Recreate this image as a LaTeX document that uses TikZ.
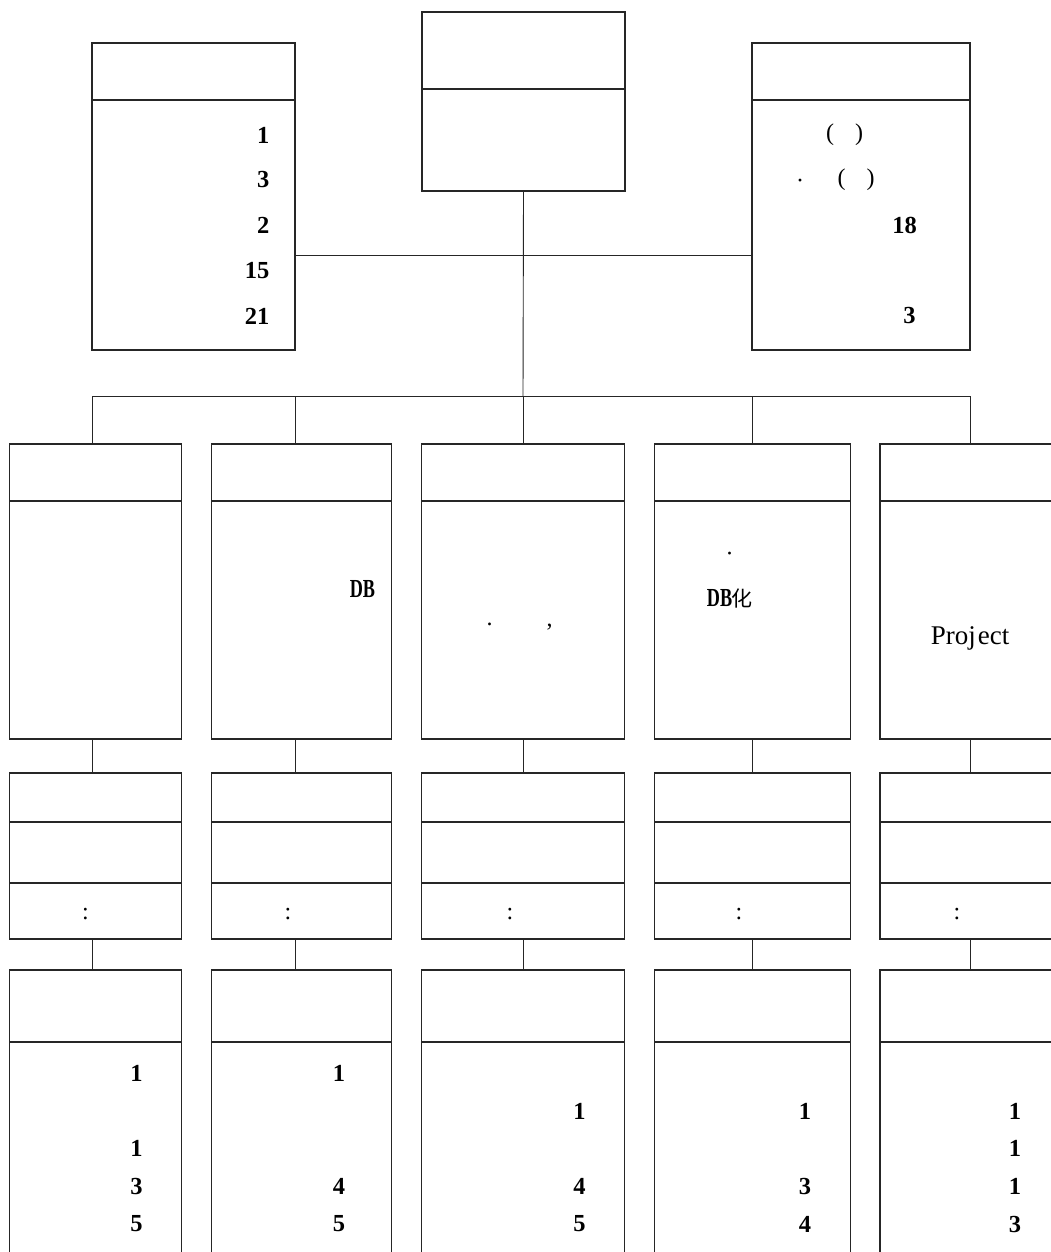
\documentclass[tikz,border=0pt]{standalone}
\usepackage{fontspec}
\setmainfont{Liberation Serif}
\newfontfamily\cjkfont{Noto Sans CJK SC}
\tikzset{
  box/.style={draw=black!85, line width=1.3pt, rectangle, inner sep=0pt, outer sep=0pt, anchor=north west},
  link/.style={draw=black!85, line width=0.9pt},
  num/.style={font=\fontsize{24.5}{28}\selectfont\bfseries, inner sep=0pt},
  txt/.style={font=\fontsize{24}{28}\selectfont, inner sep=0pt},
  dbtxt/.style={font=\fontsize{26}{30}\selectfont\bfseries, inner sep=0pt},
}
\newcommand\mybox[5]{%
  \node[box, minimum width={(#4)-(#2)}, minimum height={(#5)-(#3)}] (#1) at (#2,#3) {};}
\begin{document}
\begin{tikzpicture}[x=1pt,y=-1pt]
\useasboundingbox (0,0) rectangle (1051,1252);
\clip (0,0) rectangle (1051,1252);
% top boxes
\mybox{Lh}{92}{43}{295}{100}
\mybox{Lb}{92}{100}{295}{350}
\mybox{Ch}{422}{12}{625}{89}
\mybox{Cb}{422}{89}{625}{191}
\mybox{Rh}{752}{43}{970}{100}
\mybox{Rb}{752}{100}{970}{350}
% connectors at top
\coordinate (bus) at (523,396);
\coordinate (j) at (523,255);
\draw[link] (Cb.south) -- (bus);
\draw[link] (Lb.east |- j) -- (Rb.west |- j);
% columns
\foreach \i/\a/\b/\c in {1/9.5/181.5/92, 2/211.5/391.5/295, 3/421.5/624.5/523, 4/654.5/850.5/752, 5/880/1060/970}{
  \mybox{A\i-h}{\a}{444}{\b}{501}
  \mybox{A\i-b}{\a}{501}{\b}{739}
  \mybox{B\i-1}{\a}{773}{\b}{822}
  \mybox{B\i-2}{\a}{822}{\b}{883}
  \mybox{B\i-3}{\a}{883}{\b}{939}
  \mybox{C\i-h}{\a}{970}{\b}{1042}
  \mybox{C\i-b}{\a}{1042}{\b}{1275}
  \coordinate (d\i) at (\c,396);
  \draw[link] (d\i) -- (d\i |- A\i-h.north);
  \draw[link] (d\i |- A\i-b.south) -- (d\i |- B\i-1.north);
  \draw[link] (d\i |- B\i-3.south) -- (d\i |- C\i-h.north);
}
\draw[link] (d1) -- (d5);
% top-left texts
\node[num, anchor=east] (l1) at (269.5,135) {1};
\node[num, anchor=east] (l2) at (269.5,180) {3};
\node[num, anchor=east] (l3) at (269.5,225) {2};
\node[num, anchor=east] (l4) at (269.5,271) {15};
\node[num, anchor=east] (l5) at (269.5,316) {21};
% top-right texts
\node[txt] (r1) at (844.5,135) {(\hspace{21pt})};
\node[txt] (r2a) at (800,184) {·};
\node[txt] (r2b) at (856,180) {(\hspace{21pt})};
\node[num] (r3) at (904.5,225) {18};
\node[num] (r4) at (909.5,316) {3};
% column bodies
\node[dbtxt] (t2) at (362.4,589.3) {\scalebox{0.7}[1]{DB}};
\node[txt] (t3a) at (489.5,624) {.};
\node[txt] (t3b) at (549.5,627) {,};
\node[txt] (t4a) at (729.6,557) {·};
\node[inner sep=0pt] (t4b) at (729.5,598.3) {\fontsize{26}{30}\selectfont\bfseries\scalebox{0.7}[1]{DB}\kern-1pt{\cjkfont\mdseries\fontsize{21}{25}\selectfont 化}};
\node[txt, font=\fontsize{27}{30}\selectfont] (t5) at (970,638.3) {Proj\kern2pt ect};
% colons
\node[txt] (k1) at (85.5,914) {:};
\node[txt] (k2) at (288,914) {:};
\node[txt] (k3) at (510,914) {:};
\node[txt] (k4) at (739,914) {:};
\node[txt] (k5) at (957,914) {:};
% bottom texts
\node[num] at (136.6,1073) {1};
\node[num] at (136.6,1148) {1};
\node[num] at (136.6,1186) {3};
\node[num] at (136.6,1224) {5};
\node[num] at (339,1073) {1};
\node[num] at (339,1186) {4};
\node[num] at (339,1224) {5};
\node[num] at (579.6,1111) {1};
\node[num] at (579.6,1186) {4};
\node[num] at (579.6,1224) {5};
\node[num] at (805,1111) {1};
\node[num] at (805,1186) {3};
\node[num] at (805,1224) {4};
\node[num] at (1015,1111) {1};
\node[num] at (1015,1148) {1};
\node[num] at (1015,1186) {1};
\node[num] at (1015,1224) {3};
\end{tikzpicture}
\end{document}
